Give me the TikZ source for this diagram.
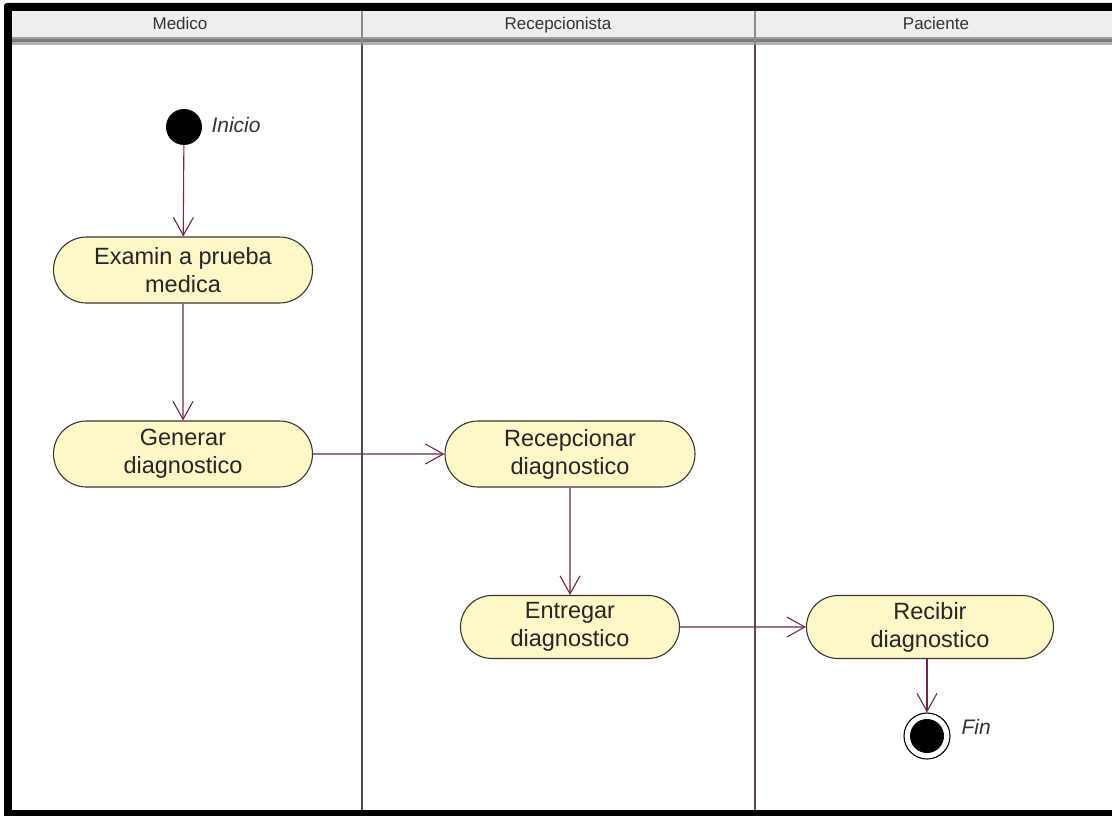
\documentclass[tikz,border=0pt]{standalone}
\usepackage{fontspec}
\setmainfont{Liberation Sans}
\usetikzlibrary{shapes.misc,arrows.meta}
\definecolor{flow}{HTML}{70284A}
\definecolor{lane}{HTML}{5A4458}
\definecolor{actfill}{HTML}{FDF8C8}
\definecolor{actdraw}{HTML}{3C3630}
\definecolor{hdr}{HTML}{EEEEEE}
\tikzset{
  activity/.style={rounded rectangle, draw=actdraw, line width=1.1pt, fill=actfill,
    minimum height=66pt, inner sep=2pt, align=center, text=black!85,
    font=\fontsize{23.5}{28}\selectfont},
  flowline/.style={draw=flow, line width=1.1pt, -{Straight Barb[length=18pt,width=20pt,line width=1.1pt]}},
  lanehead/.style={font=\fontsize{17}{19}\selectfont, text=black!80, anchor=base},
  lanesep/.style={draw=lane, line width=1.5pt},
  tag/.style={font=\fontsize{21}{23}\selectfont\itshape, text=black!80, anchor=west}
}
\begin{document}
\begin{tikzpicture}[x=1pt,y=-1pt]
\useasboundingbox (0,0) rectangle (1112,816);
\fill[white] (0,0) rectangle (1112,816);
% swimlane header band
\fill[hdr] (12,11) rectangle (1112,37);
\fill[black!38] (12,37) rectangle (1112,39);
\fill[black!52] (12,39) rectangle (1112,42);
\fill[black!30] (12,42) rectangle (1112,45);
\draw[black!45, line width=1.5pt] (362,11) -- (362,45) (755,11) -- (755,45);
% lane separators
\draw[lanesep] (362,45) -- (362,810);
\draw[lanesep] (755,45) -- (755,810);
% lane titles
\node[lanehead] (hmed) at (180,30) {Medico};
\node[lanehead] (hrec) at (558,30) {Recepcionista};
\node[lanehead] (hpac) at (936,30) {Paciente};
% outer frame
\fill[black, rounded corners=3pt] (4,3) rectangle (1120,11);
\fill[black] (4,6) rectangle (12,816);
\fill[black] (4,810) rectangle (1112,816);
% initial and final nodes
\node[circle, fill=black, minimum size=36pt, inner sep=0pt] (ini) at (184,127) {};
\node[tag] (inilbl) at (208,125) {Inicio};
\node[circle, draw=black, line width=1.1pt, fill=white, minimum size=46pt, inner sep=0pt] (fin) at (927,736) {};
\fill[black] (fin.center) circle (17pt);
\node[tag] (finlbl) at (958,727) {Fin};
% activities
\node[activity, minimum width=263pt] (exam) at (183,270) {Examin a prueba\\medica};
\node[activity, minimum width=263pt] (gen) at (183,454) {Generar\\diagnostico};
\node[activity, minimum width=254pt] (recep) at (570,454) {Recepcionar\\diagnostico};
\node[activity, minimum width=223pt, minimum height=63pt] (entr) at (570,627) {Entregar\\diagnostico};
\node[activity, minimum width=251pt, minimum height=63pt] (recib) at (930,627) {Recibir\\diagnostico};
% transitions
\draw[flowline] (ini) -- (exam);
\draw[flowline] (exam) -- (gen);
\draw[flowline] (gen) -- (recep);
\draw[flowline] (recep) -- (entr);
\draw[flowline] (entr) -- (recib);
\draw[flowline] (recib.south -| fin.north) -- (fin);
\end{tikzpicture}
\end{document}
